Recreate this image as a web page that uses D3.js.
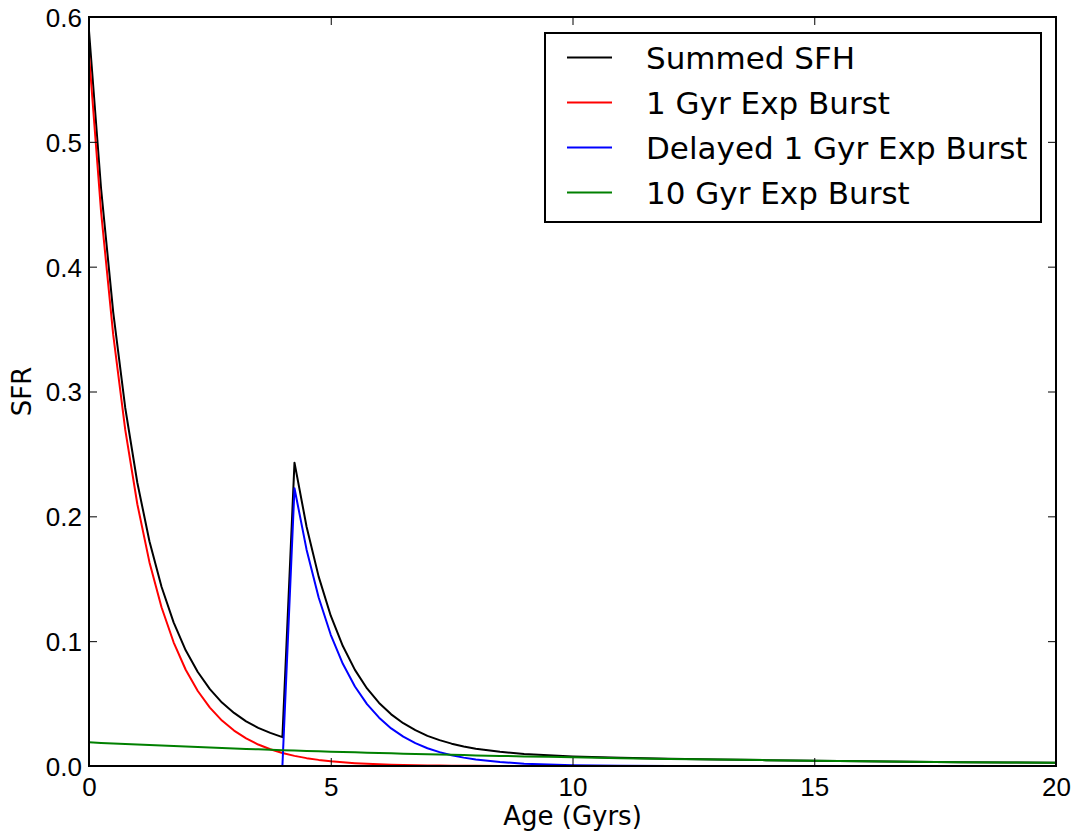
<!DOCTYPE html>
<html>
<head>
<meta charset="utf-8">
<script src="https://cdn.jsdelivr.net/npm/d3@7"></script>
<style>
  html, body { margin: 0; padding: 0; background: #fff; }
  svg { display: block; font-family: "DejaVu Sans", sans-serif; }
  .tick-label { font-size: 26px; fill: #000; }
  .axis-label { font-size: 26px; fill: #000; }
  .legend-text { font-size: 31px; fill: #000; }
</style>
</head>
<body>
<div id="chart"></div>
<script>
// Sample ages (Gyr).
var ages = [0, 0.25, 0.5, 0.75, 1, 1.25, 1.5, 1.75, 2, 2.25, 2.5, 2.75, 3, 3.25, 3.5, 3.75,
            4, 4.25, 4.5, 4.75, 5, 5.25, 5.5, 5.75, 6, 6.25, 6.5, 6.75, 7, 7.25, 7.5, 7.75,
            8, 8.5, 9, 9.5, 10, 11, 12, 13, 14, 15, 16, 17, 18, 19, 20];

var summedSfh = [0.5890, 0.4624, 0.3638, 0.2868, 0.2269, 0.1801, 0.1436, 0.1151, 0.0927, 0.0753,
                 0.0616, 0.0508, 0.0425, 0.0358, 0.0306, 0.0265, 0.0231, 0.2430, 0.1917, 0.1517,
                 0.1204, 0.0961, 0.0770, 0.0621, 0.0505, 0.0414, 0.0343, 0.0287, 0.0241, 0.0207,
                 0.0179, 0.0157, 0.0139, 0.0114, 0.0097, 0.0086, 0.0077, 0.0066, 0.0058, 0.0052,
                 0.0047, 0.0042, 0.0038, 0.0035, 0.0031, 0.0028, 0.0026];

var burst1 = [0.5700, 0.4439, 0.3457, 0.2692, 0.2097, 0.1633, 0.1272, 0.0991, 0.0771, 0.0601,
              0.0468, 0.0364, 0.0284, 0.0221, 0.0172, 0.0134, 0.0104, 0.0081, 0.0063, 0.0049,
              0.0038, 0.0030, 0.0023, 0.0018, 0.0014, 0.0011, 0.0009, 0.0007, 0.0005, 0.0004,
              0.0003, 0.0002, 0.0002, 0.0001, 0.0001, 0, 0, 0, 0, 0,
              0, 0, 0, 0, 0, 0, 0];

var delayedBurst = [0, 0, 0, 0, 0, 0, 0, 0, 0, 0,
                    0, 0, 0, 0, 0, 0, 0, 0.2225, 0.1733, 0.1350,
                    0.1051, 0.0819, 0.0637, 0.0496, 0.0387, 0.0301, 0.0235, 0.0183, 0.0142, 0.0111,
                    0.0086, 0.0067, 0.0052, 0.0032, 0.0019, 0.0012, 0.0007, 0.0003, 0.0001, 0,
                    0, 0, 0, 0, 0, 0, 0];

var burst10 = [0.0190, 0.0185, 0.0181, 0.0176, 0.0172, 0.0168, 0.0164, 0.0160, 0.0156, 0.0152,
               0.0148, 0.0144, 0.0141, 0.0137, 0.0134, 0.0131, 0.0127, 0.0124, 0.0121, 0.0118,
               0.0115, 0.0112, 0.0110, 0.0107, 0.0104, 0.0102, 0.0099, 0.0097, 0.0094, 0.0092,
               0.0090, 0.0088, 0.0085, 0.0081, 0.0077, 0.0074, 0.0070, 0.0063, 0.0057, 0.0052,
               0.0047, 0.0042, 0.0038, 0.0035, 0.0031, 0.0028, 0.0026];

var seriesNames = ['Summed SFH', '1 Gyr Exp Burst', 'Delayed 1 Gyr Exp Burst', '10 Gyr Exp Burst'];
var seriesColors = ['#000000', '#ff0000', '#0000ff', '#008000'];
var seriesValues = [summedSfh, burst1, delayedBurst, burst10];

var xTicks = [0, 5, 10, 15, 20];
var yTicks = [0.0, 0.1, 0.2, 0.3, 0.4, 0.5, 0.6];

(function() {
  'use strict';

  var width = 1076, height = 833;
  var margin = {top: 17, right: 20, bottom: 67, left: 89};
  var chartW = width - margin.left - margin.right,
      chartH = height - margin.top - margin.bottom;

  var xScale = d3.scaleLinear().domain([0, 20]).range([0, chartW]);
  var yScale = d3.scaleLinear().domain([0, 0.6]).range([chartH, 0]);

  var svg = d3.select('#chart').append('svg')
      .attr('width', width)
      .attr('height', height);

  var inner = svg.append('g')
      .attr('transform', translation(margin.left, margin.top));

  inner.append('clipPath').attr('id', 'plot-clip')
    .append('rect')
      .attr('width', chartW)
      .attr('height', chartH);

  // Lines, in the order they were plotted.
  var line = d3.line()
      .x(function(d) { return xScale(d.age); })
      .y(function(d) { return yScale(d.value); });

  var lineGroup = inner.append('g').attr('clip-path', 'url(#plot-clip)');

  seriesValues.forEach(function(values, i) {
    var points = ages.map(function(a, j) { return {age: a, value: values[j]}; });
    lineGroup.append('path')
        .datum(points)
        .attr('fill', 'none')
        .attr('stroke', seriesColors[i])
        .attr('stroke-width', 2)
        .attr('stroke-linejoin', 'round')
        .attr('d', line);
  });

  // Inward ticks on all four sides, matplotlib style.
  var tickLen = 8;
  var xAxisB = d3.axisBottom(xScale).tickValues(xTicks).tickSize(-tickLen).tickPadding(12)
      .tickFormat(d3.format('d'));
  var xAxisT = d3.axisTop(xScale).tickValues(xTicks).tickSize(-tickLen).tickFormat('');
  var yAxisL = d3.axisLeft(yScale).tickValues(yTicks).tickSize(-tickLen).tickPadding(7)
      .tickFormat(d3.format('.1f'));
  var yAxisR = d3.axisRight(yScale).tickValues(yTicks).tickSize(-tickLen).tickFormat('');

  var gxB = inner.append('g').attr('transform', translation(0, chartH)).call(xAxisB);
  var gxT = inner.append('g').call(xAxisT);
  var gyL = inner.append('g').call(yAxisL);
  var gyR = inner.append('g').attr('transform', translation(chartW, 0)).call(yAxisR);

  [gxB, gxT, gyL, gyR].forEach(function(g) {
    g.select('.domain').remove();
    g.selectAll('.tick line').attr('stroke', '#000').attr('stroke-width', 1);
    g.selectAll('text').attr('class', 'tick-label').attr('font-family', null).attr('font-size', null);
  });
  gxB.selectAll('text').attr('dy', '0.71em');
  gyL.selectAll('text').attr('dy', '0.36em');

  // Frame.
  inner.append('rect')
      .attr('width', chartW)
      .attr('height', chartH)
      .attr('fill', 'none')
      .attr('stroke', '#000')
      .attr('stroke-width', 2);

  // Axis labels.
  svg.append('text')
      .attr('class', 'axis-label')
      .attr('x', margin.left + chartW / 2)
      .attr('y', 825)
      .attr('text-anchor', 'middle')
      .text('Age (Gyrs)');

  svg.append('text')
      .attr('class', 'axis-label')
      .attr('transform', translation(31, margin.top + chartH / 2) + 'rotate(-90)')
      .attr('text-anchor', 'middle')
      .text('SFR');

  // Legend.
  var legend = svg.append('g').attr('transform', translation(545, 33));
  legend.append('rect')
      .attr('width', 496)
      .attr('height', 189)
      .attr('fill', '#fff')
      .attr('stroke', '#000')
      .attr('stroke-width', 2);

  var rows = legend.selectAll('.legend-row')
      .data(seriesNames)
    .enter().append('g')
      .attr('class', 'legend-row')
      .attr('transform', function(d, i) { return translation(0, 24.5 + i * 45); });

  rows.append('line')
      .attr('x1', 22).attr('x2', 67)
      .attr('y1', 0).attr('y2', 0)
      .attr('stroke', function(d, i) { return seriesColors[i]; })
      .attr('stroke-width', 2);

  rows.append('text')
      .attr('class', 'legend-text')
      .attr('x', 101)
      .attr('y', 11.5)
      .text(function(d) { return d; });

  function translation(x, y) {
    return 'translate(' + x + ',' + y + ')';
  }
}());
</script>
</body>
</html>
